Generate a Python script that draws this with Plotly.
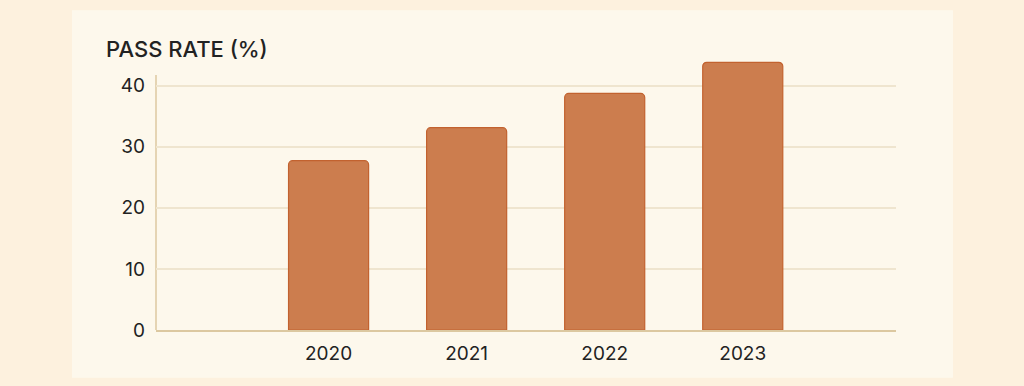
import plotly.graph_objects as go

years = ["2020", "2021", "2022", "2023"]
pass_rate = [27.7, 33.1, 38.7, 43.8]
y_ticks = [0, 10, 20, 30, 40]

OUTER = "#fdf1de"
PANEL = "#fdf8ec"
BAR = "#cc7d4e"
BAR_EDGE = "#c2622f"
GRID = "#efe5cf"
AXIS = "#dcc8a0"
TEXT = "#222222"
FONT = "Inter"

x_pos = list(range(len(years)))

fig = go.Figure()
fig.add_trace(go.Bar(
    x=x_pos, y=pass_rate, width=0.58,
    marker=dict(color=BAR, line=dict(color=BAR_EDGE, width=1.2)),
    hoverinfo="skip",
))

fig.update_layout(
    width=1024, height=386,
    margin=dict(l=156, r=128, t=58, b=56),
    paper_bgcolor=OUTER,
    plot_bgcolor="rgba(0,0,0,0)",
    showlegend=False,
    barcornerradius=4,
    font=dict(family=FONT, color=TEXT, size=19),
    xaxis=dict(
        range=[-1.25, 4.11],
        tickmode="array", tickvals=x_pos, ticktext=years,
        showgrid=False, zeroline=False,
        showline=True, linecolor=AXIS, linewidth=1.5,
        ticks="", tickfont=dict(size=19, color=TEXT, family=FONT),
        ticklabelstandoff=5,
    ),
    yaxis=dict(
        range=[0, 44.5],
        tickmode="array", tickvals=y_ticks,
        showgrid=True, gridcolor=GRID, gridwidth=1.5,
        zeroline=False, showline=False,
        ticks="", tickfont=dict(size=19, color=TEXT, family=FONT),
        ticklabelstandoff=10,
    ),
    shapes=[
        dict(type="rect", xref="paper", yref="paper",
             x0=-0.1135, x1=1.077, y0=-0.176, y1=1.176,
             fillcolor=PANEL, line=dict(width=0), layer="below"),
        dict(type="line", xref="paper", yref="y",
             x0=0, x1=0, y0=0, y1=41.7,
             line=dict(color=AXIS, width=1.5), layer="below"),
    ],
    annotations=[
        dict(text="PASS RATE (%)", xref="paper", yref="paper",
             x=-0.0703, y=1.033, xanchor="left", yanchor="middle",
             showarrow=False,
             font=dict(size=22, color=TEXT, family=FONT, weight=500)),
    ],
)

fig.write_html(
    "out.html",
    config={"displayModeBar": False},
    post_script="document.body.style.margin='0';document.body.style.background='%s';" % OUTER,
)
